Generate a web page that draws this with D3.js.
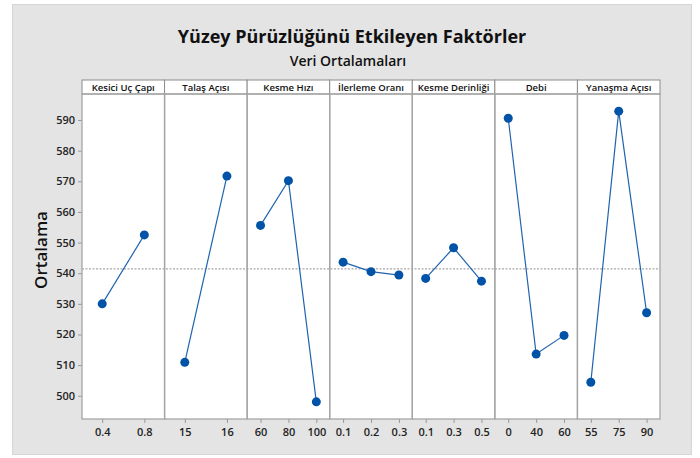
<!DOCTYPE html>
<html>
<head>
<meta charset="utf-8">
<script src="https://cdn.jsdelivr.net/npm/d3@7"></script>
<style>
  body { margin: 0; background: #fff; overflow: hidden; }
  svg { display: block; font-family: "Open Sans", "Noto Sans", sans-serif; }
</style>
</head>
<body>
<svg id="chart"></svg>
<script>
// factors and their level means
const factors = ["Kesici Uç Çapı", "Talaş Açısı", "Kesme Hızı", "İlerleme Oranı", "Kesme Derinliği", "Debi", "Yanaşma Açısı"];
const levels = [["0.4", "0.8"], ["15", "16"], ["60", "80", "100"], ["0.1", "0.2", "0.3"], ["0.1", "0.3", "0.5"], ["0", "40", "60"], ["55", "75", "90"]];
const means = [[530.0, 552.5], [510.9, 571.7], [555.6, 570.2, 498.0], [543.6, 540.5, 539.4], [538.3, 548.3, 537.4], [590.6, 513.6, 519.7], [504.4, 592.9, 527.1]];
const grandMean = 541.4;
const yTicks = [500, 510, 520, 530, 540, 550, 560, 570, 580, 590];

const width = 700, height = 458;
const margin = { top: 94, right: 40, bottom: 39, left: 82 };
const innerWidth = width - margin.left - margin.right;
const innerHeight = height - margin.top - margin.bottom;
const stripH = 14;
const font = '"Open Sans", "Noto Sans", sans-serif';

const svg = d3.select("#chart").attr("width", width).attr("height", height);

// grey backdrop
svg.append("rect").attr("x", 12.5).attr("y", 4.5).attr("width", 679).attr("height", 450)
  .attr("fill", "#e4e4e4").attr("stroke", "#d6d6d6");

svg.append("text").text("Yüzey Pürüzlüğünü Etkileyen Faktörler")
  .attr("x", 352).attr("y", 43).attr("text-anchor", "middle")
  .attr("font-size", "18px").attr("font-weight", "bold").attr("fill", "#111");
svg.append("text").text("Veri Ortalamaları")
  .attr("x", 348).attr("y", 66).attr("text-anchor", "middle")
  .attr("font-size", "14px").attr("font-weight", 600).attr("fill", "#111");

const g = svg.append("g").attr("transform", `translate(${margin.left}, ${margin.top})`);

const yScale = d3.scaleLinear().domain([492.4, 598.5]).range([innerHeight, 0]);
const panel = d3.scaleBand().domain(factors).range([0, innerWidth]).padding(0);

g.append("rect").attr("width", innerWidth).attr("height", innerHeight).attr("fill", "#fff");

// y axis
const yAxis = d3.axisLeft(yScale).tickValues(yTicks).tickSize(4).tickPadding(3);
g.append("g").attr("class", "y-axis").call(yAxis)
  .attr("font-family", font)
  .call(a => a.select(".domain").remove())
  .call(a => a.selectAll(".tick line").attr("stroke", "#999"))
  .call(a => a.selectAll(".tick text").attr("font-size", "11px").attr("font-weight", 600).attr("fill", "#222"));

svg.append("text").text("Ortalama")
  .attr("transform", "translate(47, 250) rotate(-90)").attr("text-anchor", "middle")
  .attr("font-size", "17px").attr("font-weight", 600).attr("fill", "#111");

// reference line at grand mean
g.append("line").attr("x1", 0).attr("x2", innerWidth)
  .attr("y1", yScale(grandMean)).attr("y2", yScale(grandMean))
  .attr("stroke", "#777").attr("stroke-width", 0.8).attr("stroke-dasharray", "2,1.5");

const line = d3.line();

factors.forEach((f, i) => {
  const x0 = panel(f);
  const bw = panel.bandwidth();
  const xScale = d3.scalePoint().domain(levels[i]).range([0, bw]).padding(0.48);
  const pg = g.append("g").attr("transform", `translate(${x0}, 0)`);

  // strip header
  pg.append("rect").attr("x", 0).attr("y", -stripH).attr("width", bw).attr("height", stripH)
    .attr("fill", "#fff").attr("stroke", "#8c8c8c").attr("stroke-width", 1);
  pg.append("text").text(f).attr("x", bw / 2).attr("y", -3.5).attr("text-anchor", "middle")
    .attr("font-size", "9.5px").attr("font-weight", 600).attr("fill", "#111");

  // panel frame
  pg.append("rect").attr("width", bw).attr("height", innerHeight)
    .attr("fill", "none").attr("stroke", "#a6a6a6").attr("stroke-width", 1.3);

  const xAxis = d3.axisBottom(xScale).tickSize(4).tickPadding(5);
  pg.append("g").attr("transform", `translate(0, ${innerHeight})`).call(xAxis)
    .attr("font-family", font)
    .call(a => a.select(".domain").remove())
    .call(a => a.selectAll(".tick line").attr("stroke", "#999"))
    .call(a => a.selectAll(".tick text").attr("font-size", "11px").attr("font-weight", 600).attr("fill", "#222"));

  const pts = levels[i].map((lv, j) => [xScale(lv), yScale(means[i][j])]);
  pg.append("path").attr("d", line(pts)).attr("fill", "none").attr("stroke", "#1f63b0").attr("stroke-width", 1.2);
  pg.selectAll("circle").data(pts).join("circle")
    .attr("cx", d => d[0]).attr("cy", d => d[1]).attr("r", 4.5).attr("fill", "#0053a6");
});
</script>
</body>
</html>
